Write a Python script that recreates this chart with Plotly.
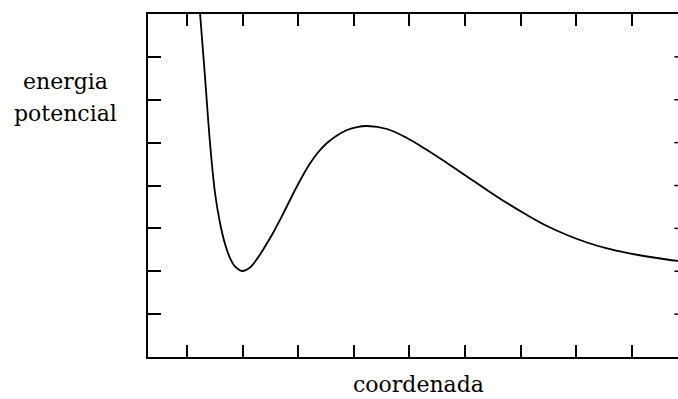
import plotly.graph_objects as go

# Data (coordinate, potential energy), arbitrary units
coord = [1.217, 1.234, 1.324, 1.414, 1.504, 1.594, 1.684, 1.773, 1.863, 1.989,
         2.133, 2.277, 2.403, 2.547, 2.727, 2.907, 3.068, 3.212, 3.356,
         3.518, 3.698, 3.878, 4.058, 4.237, 4.597, 4.957, 5.317, 5.676, 6.036,
         6.396, 6.755, 7.115, 7.475, 7.835, 8.194, 8.554, 8.914, 9.273, 9.633, 9.993]
energy = [8.303, 8.023, 6.531, 4.991, 3.825, 3.125, 2.636, 2.309, 2.111, 2.006,
          2.087, 2.321, 2.577, 2.892, 3.335, 3.802, 4.198, 4.513, 4.770,
          4.991, 5.166, 5.294, 5.364, 5.388, 5.318, 5.108, 4.828, 4.525, 4.210,
          3.895, 3.592, 3.312, 3.055, 2.845, 2.671, 2.531, 2.426, 2.344, 2.274, 2.216]

x_ticks = [1, 2, 3, 4, 5, 6, 7, 8, 9]
y_ticks = [1, 2, 3, 4, 5, 6, 7]
x_label = "coordenada"
y_label_lines = ["energia", "potencial"]

X_MIN, X_VISIBLE_MAX, X_BOX_MAX = 0.2986, 9.831, 10.0
Y_MIN, Y_MAX = 0, 8

fig = go.Figure()
fig.add_trace(go.Scatter(
    x=coord, y=energy, mode="lines",
    line=dict(color="black", width=1.8, shape="spline", smoothing=1.0),
    hoverinfo="skip", showlegend=False, cliponaxis=True,
))

axis_common = dict(showgrid=False, zeroline=False, showticklabels=False,
                   ticks="inside", tickcolor="black", tickwidth=1.5,
                   showline=True, linecolor="black", linewidth=1.5)

fig.update_xaxes(range=[X_MIN, X_VISIBLE_MAX], tickvals=x_ticks, ticklen=12,
                 mirror="ticks", **axis_common)
fig.update_yaxes(range=[Y_MIN, Y_MAX], tickvals=y_ticks, ticklen=13,
                 mirror=False, **axis_common)

# right-hand inside ticks of the (off-screen) right border
tick_len_x = 13 / 55.6
for yv in y_ticks:
    fig.add_shape(type="line", xref="x", yref="y",
                  x0=X_BOX_MAX - tick_len_x, x1=X_BOX_MAX, y0=yv, y1=yv,
                  line=dict(color="black", width=1.5))

font = dict(family="DejaVu Serif", size=22, color="black")
fig.add_annotation(text=x_label, xref="paper", yref="paper",
                   x=(418 - 148) / 530, y=-(394 - 357) / 343,
                   xanchor="center", yanchor="bottom", yshift=-5,
                   showarrow=False, font=font)
fig.add_annotation(text=y_label_lines[0], xref="paper", yref="paper",
                   x=-(148 - 65) / 530, y=(357 - 91) / 343,
                   xanchor="center", yanchor="bottom", yshift=-5,
                   showarrow=False, font=font)
fig.add_annotation(text=y_label_lines[1], xref="paper", yref="paper",
                   x=-(148 - 65) / 530, y=(357 - 123) / 343,
                   xanchor="center", yanchor="bottom", yshift=-5,
                   showarrow=False, font=font)

fig.update_layout(width=678, height=399,
                  margin=dict(l=148, r=0, t=14, b=42),
                  paper_bgcolor="white", plot_bgcolor="white")

fig.write_html("out.html")
